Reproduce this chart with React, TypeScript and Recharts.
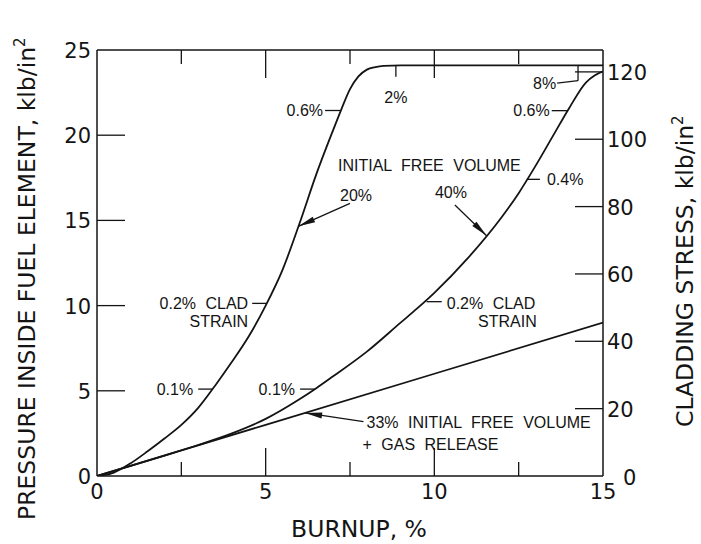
import { LineChart, Line, XAxis, YAxis, ReferenceLine } from 'recharts'

// burnup (%) vs pressure inside fuel element (klb/in^2)
const burnupA = [0, 0.5, 1, 1.5, 2, 2.5, 3, 3.5, 4, 4.5, 5, 5.5, 6, 6.5, 7, 7.25, 7.5, 7.75, 8, 8.25, 8.5, 9, 12, 15]
const pressureA = [0, 0.2, 0.75, 1.45, 2.2, 3.0, 4.0, 5.3, 6.7, 8.2, 10.0, 12.1, 14.8, 17.7, 20.3, 21.55, 22.7, 23.45, 23.85, 24.0, 24.07, 24.1, 24.1, 24.1]

const burnupB = [0, 1, 2, 3, 4, 5, 6, 6.5, 7, 8, 9, 9.5, 10, 11, 12, 12.5, 13, 13.5, 14, 14.5, 14.75, 15]
const pressureB = [0, 0.6, 1.2, 1.82, 2.5, 3.35, 4.5, 5.15, 5.85, 7.3, 9.0, 9.85, 10.75, 12.8, 15.2, 16.6, 18.2, 19.9, 21.6, 23.1, 23.5, 23.75]

const burnupC = [0, 5, 10, 15]
const pressureC = [0, 3.0, 6.0, 9.0]

const burnupTicks = [0, 2.5, 5, 7.5, 10, 12.5, 15]
const pressureTicks = [0, 5, 10, 15, 20, 25]
const stressTicks = [0, 20, 40, 60, 80, 100, 120]

const curveA = burnupA.map((x, i) => ({ x, y: pressureA[i] }))
const curveB = burnupB.map((x, i) => ({ x, y: pressureB[i] }))
const curveC = burnupC.map((x, i) => ({ x, y: pressureC[i] }))

const INK = '#141414'
const AXIS_FONT = '"DejaVu Sans", sans-serif'
const NOTE_FONT = '"Liberation Sans", Arial, sans-serif'

type NoteText = { text: string; dx: number; dy: number; anchor?: 'start' | 'middle' | 'end' }
type Note = { from: [number, number]; to: [number, number]; arrow?: boolean; texts: NoteText[] }

// leader lines / arrows with their labels, placed in data coordinates
const notes: Note[] = [
  { from: [3.0, 5.1], to: [3.42, 5.1], texts: [{ text: '0.1%', dx: -5, dy: 6, anchor: 'end' }] },
  {
    from: [4.6, 10.13], to: [5.02, 10.13],
    texts: [{ text: '0.2% CLAD', dx: -4, dy: 6, anchor: 'end' }, { text: 'STRAIN', dx: -4, dy: 24, anchor: 'end' }],
  },
  {
    from: [7.5, 16.0], to: [5.97, 14.65], arrow: true,
    texts: [{ text: '20%', dx: -10, dy: -2 }, { text: 'INITIAL FREE VOLUME', dx: -12, dy: -32 }],
  },
  { from: [6.76, 21.45], to: [7.22, 21.45], texts: [{ text: '0.6%', dx: -2, dy: 6, anchor: 'end' }] },
  { from: [8.86, 23.43], to: [8.86, 24.08], texts: [{ text: '2%', dx: 0, dy: 26, anchor: 'middle' }] },
  { from: [10.61, 15.9], to: [11.55, 14.1], arrow: true, texts: [{ text: '40%', dx: -20, dy: -7 }] },
  { from: [13.13, 17.41], to: [12.74, 17.41], texts: [{ text: '0.4%', dx: 7, dy: 6 }] },
  { from: [13.48, 21.44], to: [13.94, 21.44], texts: [{ text: '0.6%', dx: -2, dy: 5, anchor: 'end' }] },
  { from: [14.26, 23.2], to: [14.26, 24.08], texts: [] },
  { from: [13.64, 23.06], to: [14.26, 23.2], texts: [{ text: '8%', dx: -1, dy: 6, anchor: 'end' }] },
  { from: [6.02, 5.1], to: [6.46, 5.1], texts: [{ text: '0.1%', dx: -5, dy: 6, anchor: 'end' }] },
  {
    from: [10.22, 10.23], to: [9.77, 10.23],
    texts: [{ text: '0.2% CLAD', dx: 5, dy: 7 }, { text: 'STRAIN', dx: 95, dy: 25, anchor: 'end' }],
  },
  {
    from: [7.9, 3.19], to: [6.17, 3.7], arrow: true,
    texts: [{ text: '33% INITIAL FREE VOLUME', dx: 3, dy: 6 }, { text: '+ GAS RELEASE', dx: -1, dy: 28 }],
  },
]

function noteShape(note: Note) {
  return (p: any) => {
    const { x1, y1, x2, y2 } = p
    let head = null
    if (note.arrow) {
      const a = Math.atan2(y2 - y1, x2 - x1)
      const len = 17
      const w = 3
      const bx = x2 - len * Math.cos(a)
      const by = y2 - len * Math.sin(a)
      const nx = -Math.sin(a) * w
      const ny = Math.cos(a) * w
      head = <polygon points={`${x2},${y2} ${bx + nx},${by + ny} ${bx - nx},${by - ny}`} fill={INK} />
    }
    return (
      <g>
        <line x1={x1} y1={y1} x2={x2} y2={y2} stroke={INK} strokeWidth={1.3} />
        {head}
        {note.texts.map((t, i) => (
          <text
            key={i}
            x={x1 + t.dx}
            y={y1 + t.dy}
            textAnchor={t.anchor ?? 'start'}
            fontFamily={NOTE_FONT}
            fontSize={16}
            wordSpacing={5}
            fill={INK}
          >
            {t.text}
          </text>
        ))}
      </g>
    )
  }
}

function BottomTick({ x, y, payload }: any) {
  const v = payload.value
  const major = v % 5 === 0
  const inner = v > 0 && v < 15
  return (
    <g>
      {inner && <line x1={x} y1={y} x2={x} y2={y - (major ? 28 : 14)} stroke={INK} strokeWidth={1.3} />}
      {major && (
        <text x={x} y={y + 23} textAnchor="middle" fontFamily={AXIS_FONT} fontSize={21} fill={INK}>
          {v}
        </text>
      )}
    </g>
  )
}

function TopTick({ x, y, payload }: any) {
  const v = payload.value
  if (v <= 0 || v >= 15) return <g />
  return <line x1={x} y1={y} x2={x} y2={y + (v % 5 === 0 ? 28 : 14)} stroke={INK} strokeWidth={1.3} />
}

function LeftTick({ x, y, payload }: any) {
  const v = payload.value
  return (
    <g>
      {v > 0 && v < 25 && <line x1={x} y1={y} x2={x + 28} y2={y} stroke={INK} strokeWidth={1.3} />}
      <text x={x - 6} y={y + 8} textAnchor="end" fontFamily={AXIS_FONT} fontSize={21} fill={INK}>
        {v}
      </text>
    </g>
  )
}

function RightTick({ x, y, payload }: any) {
  const v = payload.value
  return (
    <g>
      {v > 0 && <line x1={x} y1={y} x2={x - 28} y2={y} stroke={INK} strokeWidth={1.3} />}
      <text x={v === 0 ? x + 20 : x + 4} y={v === 0 ? y + 9 : y + 8} fontFamily={AXIS_FONT} fontSize={21} fill={INK}>
        {v}
      </text>
    </g>
  )
}

const titleStyle = { fontFamily: AXIS_FONT, fontSize: 23.5, fill: INK }

function PressureTitle() {
  return (
    <text x={35} y={520} transform="rotate(-90 35 520)" style={titleStyle}>
      PRESSURE INSIDE FUEL ELEMENT, klb/in
      <tspan dy={-10} fontSize={15}>2</tspan>
    </text>
  )
}

function StressTitle() {
  return (
    <text x={693} y={427} transform="rotate(-90 693 427)" style={titleStyle}>
      CLADDING STRESS, klb/in
      <tspan dy={-10} fontSize={15}>2</tspan>
    </text>
  )
}

function BurnupTitle() {
  return (
    <text x={359} y={537} textAnchor="middle" style={titleStyle}>
      BURNUP, %
    </text>
  )
}

export default function App() {
  return (
    <div style={{ position: 'fixed', left: 0, top: 0, background: '#fff' }}>
      <LineChart width={701} height={544} margin={{ top: 30, right: 38, bottom: 38, left: 37 }}>
        <XAxis
          type="number"
          dataKey="x"
          domain={[0, 15]}
          allowDataOverflow
          ticks={burnupTicks}
          interval={0}
          tickSize={0}
          tickMargin={0}
          tickLine={false}
          tick={<BottomTick />}
          height={30}
          axisLine={{ stroke: INK, strokeWidth: 1.5 }}
          label={<BurnupTitle />}
        />
        <XAxis
          xAxisId="top"
          orientation="top"
          type="number"
          dataKey="x"
          domain={[0, 15]}
          allowDataOverflow
          ticks={burnupTicks}
          interval={0}
          tickSize={0}
          tickMargin={0}
          tickLine={false}
          tick={<TopTick />}
          height={20}
          axisLine={{ stroke: INK, strokeWidth: 1.5 }}
        />
        <YAxis
          yAxisId="left"
          type="number"
          domain={[0, 25]}
          allowDataOverflow
          ticks={pressureTicks}
          interval={0}
          tickSize={0}
          tickMargin={0}
          tickLine={false}
          tick={<LeftTick />}
          width={60}
          axisLine={{ stroke: INK, strokeWidth: 1.5 }}
          label={<PressureTitle />}
        />
        <YAxis
          yAxisId="right"
          orientation="right"
          type="number"
          domain={[0, 126.5]}
          allowDataOverflow
          ticks={stressTicks}
          interval={0}
          tickSize={0}
          tickMargin={0}
          tickLine={false}
          tick={<RightTick />}
          width={60}
          axisLine={{ stroke: INK, strokeWidth: 1.5 }}
          label={<StressTitle />}
        />
        <Line yAxisId="left" data={curveA} dataKey="y" type="monotone" stroke={INK} strokeWidth={1.8} dot={false} isAnimationActive={false} />
        <Line yAxisId="left" data={curveB} dataKey="y" type="monotone" stroke={INK} strokeWidth={1.8} dot={false} isAnimationActive={false} />
        <Line yAxisId="left" data={curveC} dataKey="y" type="linear" stroke={INK} strokeWidth={1.8} dot={false} isAnimationActive={false} />
        {notes.map((n, i) => (
          <ReferenceLine
            key={i}
            yAxisId="left"
            ifOverflow="visible"
            segment={[{ x: n.from[0], y: n.from[1] }, { x: n.to[0], y: n.to[1] }]}
            shape={noteShape(n)}
          />
        ))}
      </LineChart>
    </div>
  )
}
